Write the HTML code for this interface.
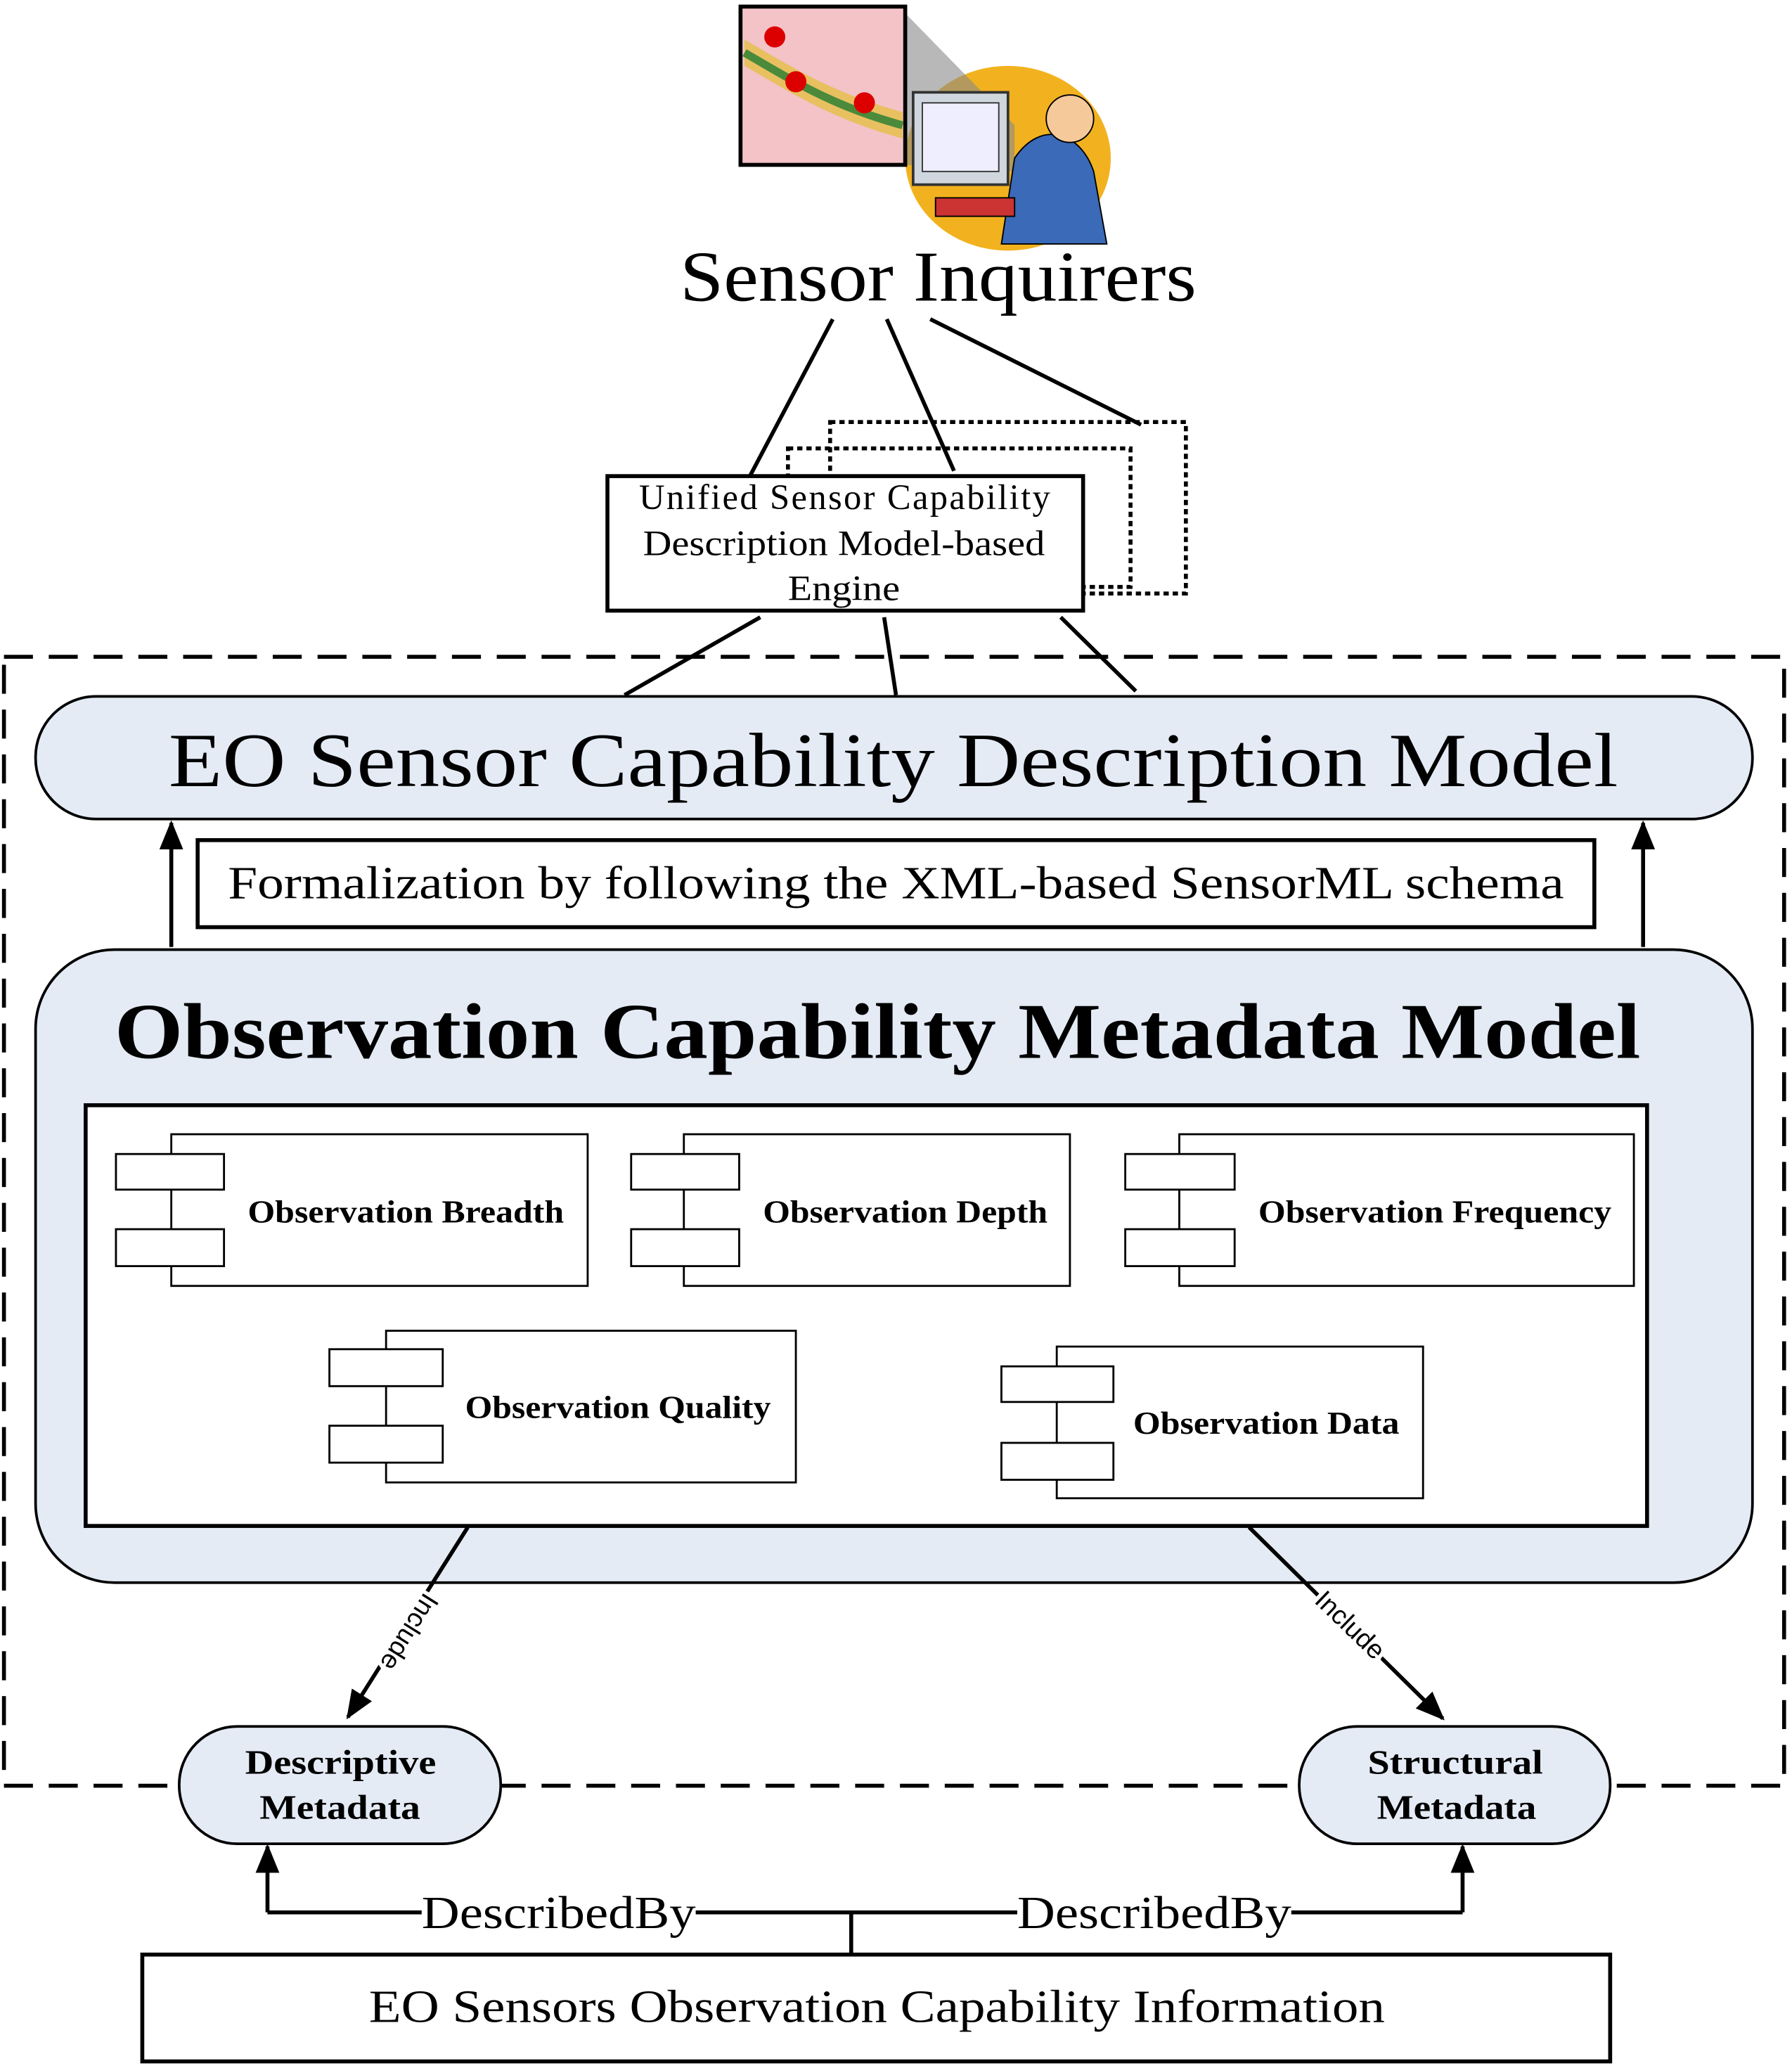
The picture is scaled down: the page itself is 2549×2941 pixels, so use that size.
<!DOCTYPE html>
<html><head><meta charset="utf-8"><style>html,body{margin:0;padding:0;background:#fff}svg{display:block}</style></head><body>
<svg width="2549" height="2941" viewBox="0 0 1360 1568" preserveAspectRatio="none" xmlns="http://www.w3.org/2000/svg" font-family="'Liberation Serif', serif">
<defs>
<marker id="ab" markerWidth="22" markerHeight="22" refX="20" refY="11" orient="auto" markerUnits="userSpaceOnUse"><path d="M0,2 L22,11 L0,20 z" fill="#000"/></marker>
</defs>
<ellipse cx="765" cy="120" rx="78" ry="70" fill="#f2b21f"/>
<polygon points="687,10 770,95 770,130 687,125" fill="#888" opacity="0.6"/>
<rect x="562" y="5" width="125" height="120" fill="#f3c3c8" stroke="#000" stroke-width="3"/>
<path d="M565,30 C600,50 630,70 685,85 L685,105 C630,90 600,70 565,50 z" fill="#e8c060"/>
<path d="M565,40 C600,60 630,80 685,95" stroke="#4a8a3a" stroke-width="6" fill="none"/>
<circle cx="588" cy="28" r="8" fill="#d00"/><circle cx="604" cy="62" r="8" fill="#d00"/><circle cx="656" cy="78" r="8" fill="#d00"/>
<rect x="693" y="70" width="72" height="70" fill="#cfd6de" stroke="#333" stroke-width="2"/>
<rect x="700" y="78" width="58" height="52" fill="#eef" stroke="#333"/>
<path d="M770,120 C790,90 820,100 830,130 L840,185 L760,185 z" fill="#3a6ab8" stroke="#000"/>
<circle cx="812" cy="90" r="18" fill="#f5c99a" stroke="#000"/>
<rect x="710" y="150" width="60" height="14" fill="#c33" stroke="#000"/>
<text x="516" y="228" font-size="54" textLength="392" lengthAdjust="spacingAndGlyphs">Sensor Inquirers</text>
<g stroke="#000" stroke-width="3" fill="none">
<line x1="632" y1="242" x2="567" y2="365"/><line x1="673" y1="242" x2="724" y2="357"/><line x1="706" y1="242" x2="866" y2="322"/>
<rect x="630" y="320" width="270" height="130" stroke-dasharray="4,3"/>
<rect x="598" y="340" width="260" height="105" stroke-dasharray="4,3"/>
</g>
<rect x="461" y="361" width="361" height="102" fill="#fff" stroke="#000" stroke-width="3"/>
<text font-size="27" lengthAdjust="spacingAndGlyphs"><tspan x="485" y="386" textLength="312">Unified Sensor Capability</tspan></text>
<text x="488" y="421" font-size="27" textLength="305" lengthAdjust="spacingAndGlyphs">Description Model-based</text>
<text x="598" y="455" font-size="27" textLength="85" lengthAdjust="spacingAndGlyphs">Engine</text>
<rect x="3" y="498" width="1351" height="856" fill="none" stroke="#000" stroke-width="3" stroke-dasharray="22,12"/>
<g stroke="#000" stroke-width="3"><line x1="577" y1="468" x2="474" y2="527"/><line x1="671" y1="468" x2="680" y2="527"/><line x1="805" y1="468" x2="862" y2="524"/></g>
<rect x="27" y="528" width="1303" height="93" rx="46" fill="#e4ebf5" stroke="#000" stroke-width="2"/>
<text x="128" y="596" font-size="58" textLength="1100" lengthAdjust="spacingAndGlyphs">EO Sensor Capability Description Model</text>
<rect x="150" y="637" width="1060" height="66" fill="#fff" stroke="#000" stroke-width="3"/>
<text x="173" y="681" font-size="35" textLength="1014" lengthAdjust="spacingAndGlyphs">Formalization by following the XML-based SensorML schema</text>
<g stroke="#000" stroke-width="3"><line x1="130" y1="718" x2="130" y2="624" marker-end="url(#ab)"/><line x1="1247" y1="718" x2="1247" y2="624" marker-end="url(#ab)"/></g>
<rect x="27" y="720" width="1303" height="480" rx="60" fill="#e4ebf5" stroke="#000" stroke-width="2"/>
<text x="87" y="802" font-size="60" font-weight="bold" textLength="1158" lengthAdjust="spacingAndGlyphs">Observation Capability Metadata Model</text>
<rect x="65" y="838" width="1185" height="319" fill="#fff" stroke="#000" stroke-width="3"/>
<g fill="#fff" stroke="#000" stroke-width="1.5">
<rect x="130" y="860" width="316" height="115"/><rect x="88" y="875" width="82" height="27"/><rect x="88" y="932" width="82" height="28"/>
<rect x="519" y="860" width="293" height="115"/><rect x="479" y="875" width="82" height="27"/><rect x="479" y="932" width="82" height="28"/>
<rect x="895" y="860" width="345" height="115"/><rect x="854" y="875" width="83" height="27"/><rect x="854" y="932" width="83" height="28"/>
<rect x="293" y="1009" width="311" height="115"/><rect x="250" y="1023" width="86" height="28"/><rect x="250" y="1081" width="86" height="28"/>
<rect x="802" y="1021" width="278" height="115"/><rect x="760" y="1036" width="85" height="27"/><rect x="760" y="1094" width="85" height="28"/>
</g>
<g font-size="24" font-weight="bold" lengthAdjust="spacingAndGlyphs">
<text x="188" y="927" textLength="240" lengthAdjust="spacingAndGlyphs">Observation Breadth</text>
<text x="579" y="927" textLength="216" lengthAdjust="spacingAndGlyphs">Observation Depth</text>
<text x="955" y="927" textLength="268" lengthAdjust="spacingAndGlyphs">Observation Frequency</text>
<text x="353" y="1075" textLength="232" lengthAdjust="spacingAndGlyphs">Observation Quality</text>
<text x="860" y="1087" textLength="202" lengthAdjust="spacingAndGlyphs">Observation Data</text>
</g>
<g stroke="#000" stroke-width="3"><line x1="355" y1="1158" x2="264" y2="1302" marker-end="url(#ab)"/><line x1="948" y1="1158" x2="1095" y2="1303" marker-end="url(#ab)"/></g>
<text x="0" y="0" font-family="'Liberation Sans', sans-serif" font-size="20" text-anchor="middle" transform="translate(305,1234) rotate(122)" stroke="#fff" stroke-width="6" paint-order="stroke">Include</text>
<text x="0" y="0" font-family="'Liberation Sans', sans-serif" font-size="20" text-anchor="middle" transform="translate(1020,1237) rotate(44)" stroke="#fff" stroke-width="6" paint-order="stroke">Include</text>
<rect x="136" y="1309" width="244" height="89" rx="44" fill="#e4ebf5" stroke="#000" stroke-width="2"/>
<rect x="986" y="1309" width="236" height="89" rx="44" fill="#e4ebf5" stroke="#000" stroke-width="2"/>
<g font-size="26" font-weight="bold">
<text x="186" y="1345" textLength="145" lengthAdjust="spacingAndGlyphs">Descriptive</text>
<text x="197" y="1379" textLength="122" lengthAdjust="spacingAndGlyphs">Metadata</text>
<text x="1038" y="1345" textLength="133" lengthAdjust="spacingAndGlyphs">Structural</text>
<text x="1045" y="1379" textLength="121" lengthAdjust="spacingAndGlyphs">Metadata</text>
</g>
<g stroke="#000" stroke-width="3" fill="none"><polyline points="646,1482 646,1450"/><polyline points="1110,1450 203,1450"/>
<line x1="203" y1="1450" x2="203" y2="1400" marker-end="url(#ab)"/><line x1="1110" y1="1450" x2="1110" y2="1400" marker-end="url(#ab)"/></g>
<rect x="320" y="1432" width="208" height="36" fill="#fff"/><rect x="772" y="1432" width="208" height="36" fill="#fff"/>
<text x="320" y="1462" font-size="35" textLength="208" lengthAdjust="spacingAndGlyphs">DescribedBy</text>
<text x="772" y="1462" font-size="35" textLength="208" lengthAdjust="spacingAndGlyphs">DescribedBy</text>
<rect x="108" y="1482" width="1114" height="81" fill="#fff" stroke="#000" stroke-width="3"/>
<text x="280" y="1533" font-size="35" textLength="771" lengthAdjust="spacingAndGlyphs">EO Sensors Observation Capability Information</text>
</svg>
</body></html>
